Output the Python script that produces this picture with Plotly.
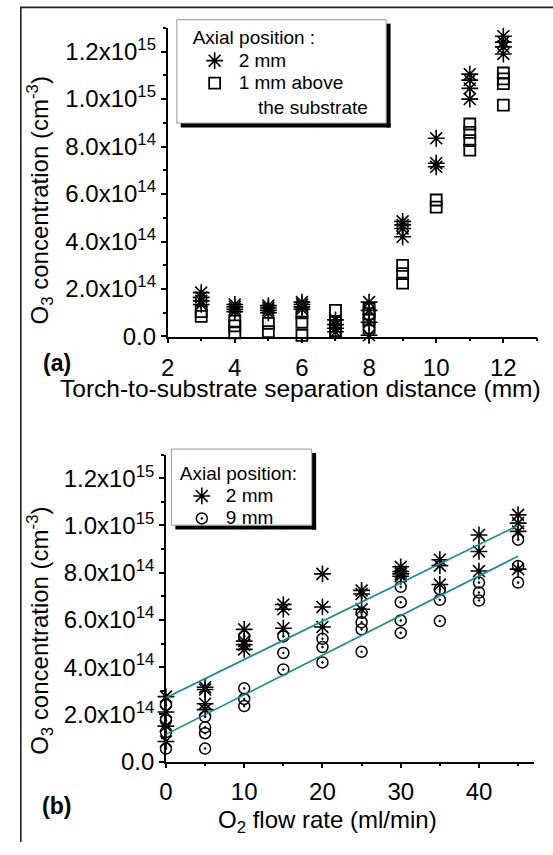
import plotly.graph_objects as go

W, H = 553, 855

# ---------------- data: panel (a) ----------------
sep_2mm_x = [3]*4 + [4]*4 + [5]*4 + [6]*4 + [7]*4 + [8]*4 + [9]*4 + [10]*3 + [11]*4 + [12]*4
sep_2mm_y = [1.85e14, 1.65e14, 1.5e14, 1.35e14,
             1.35e14, 1.25e14, 1.15e14, 1.05e14,
             1.3e14, 1.2e14, 1.1e14, 1.0e14,
             1.45e14, 1.35e14, 1.25e14, 1.15e14,
             0.7e14, 0.5e14, 0.35e14, 0.2e14,
             1.45e14, 1.1e14, 0.6e14, 0.05e14,
             4.85e14, 4.7e14, 4.55e14, 4.2e14,
             8.35e14, 7.3e14, 7.15e14,
             11.05e14, 10.8e14, 10.45e14, 10.0e14,
             12.65e14, 12.4e14, 12.2e14, 11.9e14]
sep_sub_x = [3]*2 + [4]*3 + [5]*2 + [6]*3 + [7]*3 + [8]*4 + [9]*3 + [10]*2 + [11]*4 + [12]*4
sep_sub_y = [1.05e14, 0.85e14,
             0.65e14, 0.45e14, 0.15e14,
             0.55e14, 0.2e14,
             1.0e14, 0.6e14, 0.05e14,
             1.1e14, 0.6e14, 0.25e14,
             1.15e14, 0.95e14, 0.7e14, 0.35e14,
             3.0e14, 2.65e14, 2.25e14,
             5.75e14, 5.45e14,
             8.95e14, 8.6e14, 8.25e14, 7.85e14,
             11.1e14, 10.85e14, 10.65e14, 9.75e14]

# ---------------- data: panel (b) ----------------
flow_2mm_x = [0]*4 + [5]*4 + [10]*4 + [15]*3 + [20]*3 + [25]*3 + [30]*4 + [35]*3 + [40]*3 + [45]*4
flow_2mm_y = [2.75e14, 2.1e14, 1.5e14, 0.85e14,
              3.15e14, 3.05e14, 2.45e14, 2.2e14,
              5.6e14, 5.1e14, 4.95e14, 4.75e14,
              6.65e14, 6.45e14, 5.65e14,
              7.95e14, 6.55e14, 5.7e14,
              7.25e14, 7.1e14, 6.45e14,
              8.25e14, 8.05e14, 7.95e14, 7.85e14,
              8.55e14, 8.3e14, 7.5e14,
              9.6e14, 8.9e14, 8.07e14,
              10.45e14, 10.1e14, 9.75e14, 8.15e14]
flow_9mm_x = [0]*4 + [5]*4 + [10]*4 + [15]*3 + [20]*3 + [25]*4 + [30]*4 + [35]*3 + [40]*3 + [45]*3
flow_9mm_y = [2.4e14, 1.75e14, 1.25e14, 0.55e14,
              1.9e14, 1.45e14, 1.2e14, 0.55e14,
              5.3e14, 3.1e14, 2.65e14, 2.35e14,
              5.3e14, 4.6e14, 3.9e14,
              5.2e14, 4.85e14, 4.2e14,
              6.3e14, 5.9e14, 5.6e14, 4.65e14,
              7.4e14, 6.75e14, 5.98e14, 5.45e14,
              7.3e14, 6.85e14, 5.95e14,
              7.58e14, 7.16e14, 6.82e14,
              9.4e14, 8.28e14, 7.58e14]

# linear fits: (intercept, slope)
fit_2mm = (2.7e14, 1.622e13)
fit_9mm = (1.15e14, 1.678e13)
fit_x = [0, 45]

# tick labels
y_tickvals = [0, 2e14, 4e14, 6e14, 8e14, 1.0e15, 1.2e15]
y_ticktext = ["0.0", "2.0x10<sup>14</sup>", "4.0x10<sup>14</sup>", "6.0x10<sup>14</sup>",
              "8.0x10<sup>14</sup>", "1.0x10<sup>15</sup>", "1.2x10<sup>15</sup>"]

FONT = "Liberation Sans, Arial, sans-serif"


def px(x):
    return x / W


def py(y):
    return 1 - y / H


def big(t):
    return f'<span style="font-size:19px">{t}</span>'


fig = go.Figure()

star = dict(symbol="asterisk-open", size=14, color="black", line=dict(color="black", width=1.6))
sq = dict(symbol="square-open", size=11, color="black", line=dict(color="black", width=1.8))
circ = dict(symbol="circle-open-dot", size=11, color="black", line=dict(color="black", width=1.5))

fig.add_trace(go.Scatter(x=sep_2mm_x, y=sep_2mm_y, mode="markers", marker=star, name=big("2 mm"),
                         xaxis="x", yaxis="y", legend="legend", cliponaxis=False))
fig.add_trace(go.Scatter(x=sep_sub_x, y=sep_sub_y, mode="markers", marker=sq,
                         name=big("1 mm above"),
                         xaxis="x", yaxis="y", legend="legend", cliponaxis=False))

fig.add_trace(go.Scatter(x=flow_2mm_x, y=flow_2mm_y, mode="markers", marker=star, name=big("2 mm"),
                         xaxis="x2", yaxis="y2", legend="legend2", cliponaxis=False))
fig.add_trace(go.Scatter(x=flow_9mm_x, y=flow_9mm_y, mode="markers", marker=circ, name=big("9 mm"),
                         xaxis="x2", yaxis="y2", legend="legend2", cliponaxis=False))

teal = "rgb(20,140,140)"
for a, b in (fit_2mm, fit_9mm):
    fig.add_trace(go.Scatter(x=fit_x, y=[a + b * v for v in fit_x], mode="lines",
                             line=dict(color=teal, width=1.6), showlegend=False,
                             xaxis="x2", yaxis="y2", cliponaxis=False))

axis_common = dict(showline=True, linecolor="black", linewidth=1.6, mirror=False,
                   showgrid=False, zeroline=False, ticks="outside", ticklen=5, tickwidth=1.5,
                   tickcolor="black", tickfont=dict(family=FONT, size=24, color="black"))

leg_common = dict(xanchor="left", yanchor="top", bgcolor="rgba(0,0,0,0)", borderwidth=0,
                  font=dict(family=FONT, size=15, color="black"), itemwidth=38, tracegroupgap=0)

fig.update_layout(
    width=W, height=H, margin=dict(l=0, r=0, t=0, b=0),
    paper_bgcolor="white", plot_bgcolor="white",
    font=dict(family=FONT, color="black"),
    xaxis=dict(domain=[px(162.7), px(536.7)], range=[2, 13], anchor="y",
               tickvals=[2, 4, 6, 8, 10, 12], ticklabelstandoff=4,
               minor=dict(ticks="outside", ticklen=3, tickwidth=1.5, tickcolor="black", dtick=1),
               **axis_common),
    yaxis=dict(domain=[py(341.7), py(28.3)], range=[0, 1.3e15], anchor="x",
               tickvals=y_tickvals, ticktext=y_ticktext,
               minor=dict(ticks="outside", ticklen=3, tickwidth=1.5, tickcolor="black", dtick=1e14),
               **axis_common),
    xaxis2=dict(domain=[px(161), px(533.5)], range=[0, 47], anchor="y2",
                tickvals=[0, 10, 20, 30, 40], ticklabelstandoff=3,
                minor=dict(ticks="outside", ticklen=3, tickwidth=1.5, tickcolor="black", dtick=5),
                **axis_common),
    yaxis2=dict(domain=[py(773.3), py(461.7)], range=[0, 1.3e15], anchor="x2",
                tickvals=y_tickvals, ticktext=y_ticktext,
                minor=dict(ticks="outside", ticklen=3, tickwidth=1.5, tickcolor="black", dtick=1e14),
                **axis_common),
    legend=dict(x=px(186), y=py(20),
                title=dict(text="Axial position :", font=dict(family=FONT, size=19, color="black")),
                **leg_common),
    legend2=dict(x=px(173), y=py(462),
                 title=dict(text="Axial position:", font=dict(family=FONT, size=19, color="black")),
                 **leg_common),
    showlegend=True,
)

shapes = []
# outer frame (left and top edges)
shapes.append(dict(type="path", xref="paper", yref="paper",
                   path=f"M {px(14)},{py(855)} L {px(14)},{py(7.5)} L {px(553)},{py(7.5)}",
                   line=dict(color="#222", width=1.6)))
# legend boxes with drop shadows
for (x0, y0, x1, y1) in [(172, 20, 384, 125), (166.5, 456, 308.6, 533.3)]:
    shapes.append(dict(type="rect", xref="paper", yref="paper",
                       x0=px(x1), x1=px(x1 + 4.5), y0=py(y0 + 4), y1=py(y1 + 4.5),
                       fillcolor="black", line=dict(width=0)))
    shapes.append(dict(type="rect", xref="paper", yref="paper",
                       x0=px(x0 + 4), x1=px(x1 + 4.5), y0=py(y1), y1=py(y1 + 4.5),
                       fillcolor="black", line=dict(width=0)))
    shapes.append(dict(type="rect", xref="paper", yref="paper",
                       x0=px(x0), x1=px(x1), y0=py(y1), y1=py(y0),
                       fillcolor="white", line=dict(color="#999", width=1)))
fig.update_layout(shapes=shapes)

ann = []
def add_text(text, x, y, size=24, angle=0, bold=False, xanchor="center"):
    ann.append(dict(text=f"<b>{text}</b>" if bold else text, x=px(x), y=py(y), xref="paper", yref="paper",
                    xanchor=xanchor, yanchor="middle", showarrow=False, textangle=angle,
                    font=dict(family=FONT, size=size, color="black")))

add_text("O<sub>3</sub> concentration (cm<sup>-3</sup>)", 33, 204, angle=-90)
add_text("Torch-to-substrate separation distance (mm)", 297.5, 394, size=24.5)
add_text("(a)", 51, 369, size=23, bold=True)
add_text("the substrate", 252, 109, size=19, xanchor="left")
add_text("O<sub>3</sub> concentration (cm<sup>-3</sup>)", 34, 641, angle=-90)
add_text("O<sub>2</sub> flow rate (ml/min)", 325, 834)
add_text("(b)", 50, 818, size=23, bold=True)
fig.update_layout(annotations=ann)

fig.write_html("out.html")
